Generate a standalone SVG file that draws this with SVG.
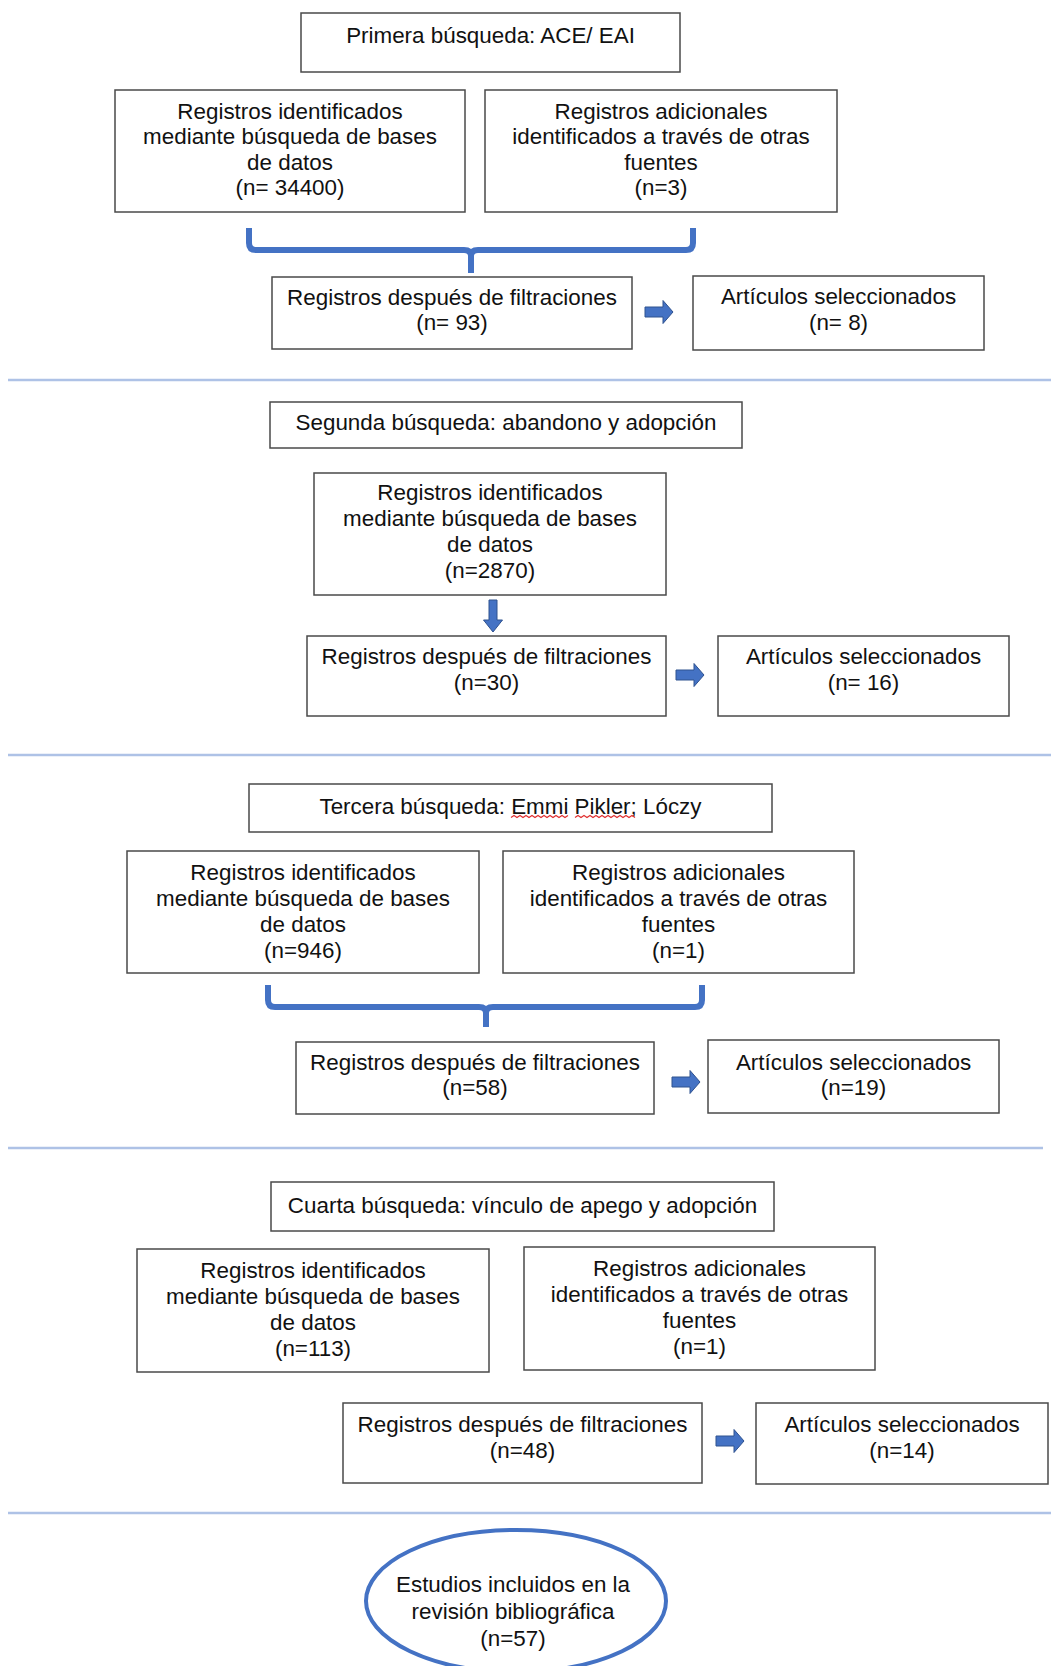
<svg xmlns="http://www.w3.org/2000/svg" width="1051" height="1666" viewBox="0 0 1051 1666">
<style>
.box{fill:#fff;stroke:#4a4a4a;stroke-width:1.5}
text{font-family:"Liberation Sans",Arial,sans-serif;font-size:22.4px;fill:#111;text-anchor:middle}
.sep{stroke:#aec2e6;stroke-width:2.5}
.brace{fill:none;stroke:#4472c4;stroke-width:6;stroke-linejoin:round}
.arr{fill:#4472c4;stroke:#2f528f;stroke-width:1}
.sq{fill:none;stroke:#e03030;stroke-width:1.2}
</style>
<defs>
<path id="ra" d="M0,-5 H18 V-11.5 L28,0 L18,11.5 V5 H0 Z"/>
<path id="da" d="M-4,0 V20 H-9.5 L0,32 L9.5,20 H4 V0 Z"/>
</defs>
<rect width="1051" height="1666" fill="#fff"/>

<g id="connectors">
<path class="brace" d="M249,228 V243 Q249,250 256,250 H464 Q471,250 471,256 V273 M693,228 V243 Q693,250 686,250 H478 Q471,250 471,256"/>
<use href="#ra" class="arr" x="645" y="312"/>
<use href="#da" class="arr" x="493" y="600"/>
<use href="#ra" class="arr" x="676" y="675"/>
<path class="brace" d="M268,985 V1000 Q268,1007 275,1007 H479 Q486,1007 486,1013 V1027 M702,985 V1000 Q702,1007 695,1007 H493 Q486,1007 486,1013"/>
<use href="#ra" class="arr" x="672" y="1082"/>
<use href="#ra" class="arr" x="716" y="1441"/>
</g>

<g id="separators">
<line class="sep" x1="8" y1="380" x2="1051" y2="380"/>
<line class="sep" x1="8" y1="755" x2="1051" y2="755"/>
<line class="sep" x1="8" y1="1148" x2="1043" y2="1148"/>
<line class="sep" x1="8" y1="1513" x2="1051" y2="1513"/>
</g>

<g id="s1-title"><rect class="box" x="301" y="13" width="379" height="59"/><text x="490.5" y="43">Primera búsqueda: ACE/ EAI</text></g>
<g id="s1-db"><rect class="box" x="115" y="90" width="350" height="122"/>
<text x="290" y="119">Registros identificados</text><text x="290" y="144">mediante búsqueda de bases</text><text x="290" y="170">de datos</text><text x="290" y="195">(n= 34400)</text></g>
<g id="s1-other"><rect class="box" x="485" y="90" width="352" height="122"/>
<text x="661" y="119">Registros adicionales</text><text x="661" y="144">identificados a través de otras</text><text x="661" y="170">fuentes</text><text x="661" y="195">(n=3)</text></g>
<g id="s1-filtered"><rect class="box" x="272" y="277" width="360" height="72"/>
<text x="452" y="305">Registros después de filtraciones</text><text x="452" y="330">(n= 93)</text></g>
<g id="s1-selected"><rect class="box" x="693" y="276" width="291" height="74"/>
<text x="838.5" y="304">Artículos seleccionados</text><text x="838.5" y="330">(n= 8)</text></g>

<g id="s2-title"><rect class="box" x="270" y="402" width="472" height="46"/><text x="506" y="430">Segunda búsqueda: abandono y adopción</text></g>
<g id="s2-db"><rect class="box" x="314" y="473" width="352" height="122"/>
<text x="490" y="500">Registros identificados</text><text x="490" y="526">mediante búsqueda de bases</text><text x="490" y="552">de datos</text><text x="490" y="578">(n=2870)</text></g>
<g id="s2-filtered"><rect class="box" x="307" y="636" width="359" height="80"/>
<text x="486.5" y="664">Registros después de filtraciones</text><text x="486.5" y="690">(n=30)</text></g>
<g id="s2-selected"><rect class="box" x="718" y="636" width="291" height="80"/>
<text x="863.5" y="664">Artículos seleccionados</text><text x="863.5" y="690">(n= 16)</text></g>

<g id="s3-title"><rect class="box" x="249" y="784" width="523" height="48"/><text x="510.5" y="814">Tercera búsqueda: Emmi Pikler; Lóczy</text>
<polyline class="sq" points="511,817.5 514,815.5 517,817.5 520,815.5 523,817.5 526,815.5 529,817.5 532,815.5 535,817.5 538,815.5 541,817.5 544,815.5 547,817.5 550,815.5 553,817.5 556,815.5 559,817.5 562,815.5 565,817.5 568,815.5"/>
<polyline class="sq" points="575,817.5 578,815.5 581,817.5 584,815.5 587,817.5 590,815.5 593,817.5 596,815.5 599,817.5 602,815.5 605,817.5 608,815.5 611,817.5 614,815.5 617,817.5 620,815.5 623,817.5 626,815.5 629,817.5 632,815.5 635,817.5"/></g>
<g id="s3-db"><rect class="box" x="127" y="851" width="352" height="122"/>
<text x="303" y="880">Registros identificados</text><text x="303" y="906">mediante búsqueda de bases</text><text x="303" y="932">de datos</text><text x="303" y="958">(n=946)</text></g>
<g id="s3-other"><rect class="box" x="503" y="851" width="351" height="122"/>
<text x="678.5" y="880">Registros adicionales</text><text x="678.5" y="906">identificados a través de otras</text><text x="678.5" y="932">fuentes</text><text x="678.5" y="958">(n=1)</text></g>
<g id="s3-filtered"><rect class="box" x="296" y="1042" width="358" height="72"/>
<text x="475" y="1070">Registros después de filtraciones</text><text x="475" y="1095">(n=58)</text></g>
<g id="s3-selected"><rect class="box" x="708" y="1040" width="291" height="73"/>
<text x="853.5" y="1070">Artículos seleccionados</text><text x="853.5" y="1095">(n=19)</text></g>

<g id="s4-title"><rect class="box" x="271" y="1182" width="503" height="49"/><text x="522.5" y="1213">Cuarta búsqueda: vínculo de apego y adopción</text></g>
<g id="s4-db"><rect class="box" x="137" y="1249" width="352" height="123"/>
<text x="313" y="1278">Registros identificados</text><text x="313" y="1304">mediante búsqueda de bases</text><text x="313" y="1330">de datos</text><text x="313" y="1356">(n=113)</text></g>
<g id="s4-other"><rect class="box" x="524" y="1247" width="351" height="123"/>
<text x="699.5" y="1276">Registros adicionales</text><text x="699.5" y="1302">identificados a través de otras</text><text x="699.5" y="1328">fuentes</text><text x="699.5" y="1354">(n=1)</text></g>
<g id="s4-filtered"><rect class="box" x="343" y="1403" width="359" height="80"/>
<text x="522.5" y="1432">Registros después de filtraciones</text><text x="522.5" y="1458">(n=48)</text></g>
<g id="s4-selected"><rect class="box" x="756" y="1403" width="292" height="81"/>
<text x="902" y="1432">Artículos seleccionados</text><text x="902" y="1458">(n=14)</text></g>

<g id="result"><ellipse cx="516" cy="1601" rx="150" ry="71" fill="#fff" stroke="#4472c4" stroke-width="4"/>
<text x="513" y="1592">Estudios incluidos en la</text><text x="513" y="1619">revisión bibliográfica</text><text x="513" y="1646">(n=57)</text></g>
</svg>
